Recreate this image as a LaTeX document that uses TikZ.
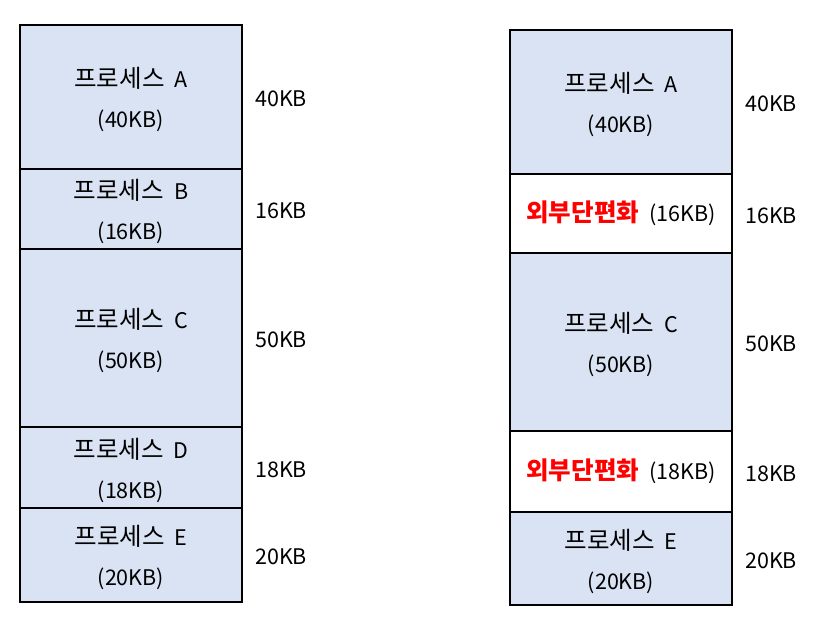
\documentclass[tikz,border=0pt]{standalone}
\usepackage{fontspec}
\setmainfont{Noto Sans CJK KR}
\newfontfamily\krfont{Noto Sans CJK KR}[Scale=1.14]
\usetikzlibrary{positioning}
\definecolor{procfill}{HTML}{DAE3F3}
\definecolor{fragred}{HTML}{FF0000}
\newcommand{\proctext}[2]{\raisebox{-2.5pt}[\height][\depth]{\begin{tabular}{@{}c@{}}{\krfont 프로세스}\hspace{10pt}#1\\(#2)\end{tabular}}}
\newcommand{\fragtext}[1]{{\krfont\bfseries\color{fragred}외부단편화}\hspace{10pt}(#1)}

\begin{document}
\begin{tikzpicture}[x=1pt,y=-1pt,label distance=13pt,node distance=0pt]
	\tikzstyle{proc}=[rectangle,draw,line width=2pt,outer sep=0pt,fill=procfill,minimum width=222pt,inner sep=0pt,font=\fontsize{21.5}{40}\selectfont]
	\tikzstyle{frag}=[proc,fill=white]
	\tikzstyle{every label}=[font=\fontsize{21.5}{24}\selectfont,inner sep=0pt,yshift=-2pt]
	\useasboundingbox (0,0) rectangle (840,622);
	
	% before
	\node [proc,anchor=north west,minimum height=144pt,label=right:{40KB}] (la) at (20,25) {\proctext{A}{40KB}};
	\node [proc,below=of la,minimum height=79pt,label=right:{16KB}] (lb) {\proctext{B}{16KB}};
	\node [proc,below=of lb,minimum height=178pt,label=right:{50KB}] (lc) {\proctext{C}{50KB}};
	\node [proc,below=of lc,minimum height=81pt,label=right:{18KB}] (ld) {\proctext{D}{18KB}};
	\node [proc,below=of ld,minimum height=94pt,label=right:{20KB}] (le) {\proctext{E}{20KB}};
	
	% after
	\node [proc,anchor=north west,minimum height=144pt,label=right:{40KB}] (ra) at (510,30) {\proctext{A}{40KB}};
	\node [frag,below=of ra,minimum height=79pt,label=right:{16KB}] (rb) {\fragtext{16KB}};
	\node [proc,below=of rb,minimum height=178pt,label=right:{50KB}] (rc) {\proctext{C}{50KB}};
	\node [frag,below=of rc,minimum height=81pt,label=right:{18KB}] (rd) {\fragtext{18KB}};
	\node [proc,below=of rd,minimum height=93pt,label=right:{20KB}] (re) {\proctext{E}{20KB}};
\end{tikzpicture}
\end{document}
